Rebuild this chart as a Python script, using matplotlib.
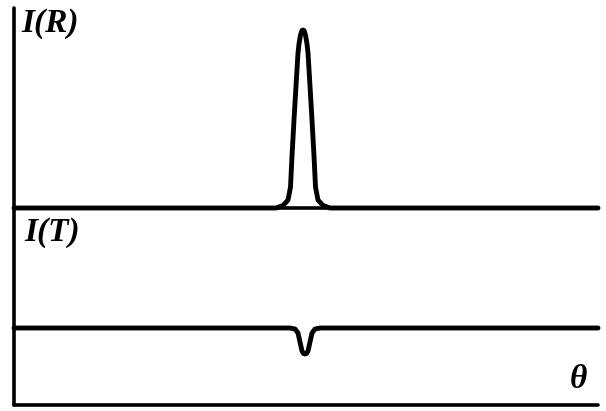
import matplotlib

matplotlib.use("Agg")
import matplotlib.pyplot as plt

# angle axis runs 0..584 (arbitrary units), intensities in arbitrary units
THETA_MAX = 584

# reflected intensity I(R): flat baseline with one narrow peak
theta_R = [0, 262, 269, 274, 276.5, 278, 280, 282, 284, 285, 286.5, 288, 289,
           290, 291.5, 293, 294, 296, 298, 300, 301.5, 304, 309, 316, 584]
I_R = [0, 0, 2.5, 8, 21, 52, 88, 122, 155, 164, 173, 177.5, 178,
       177.5, 173, 164, 155, 122, 88, 52, 21, 8, 2.5, 0, 0]

# transmitted intensity I(T): flat baseline with a small dip
theta_T = [0, 276, 281, 284, 286, 288, 289.5, 291, 292.5, 294, 296, 298, 301, 306, 584]
I_T = [0, 0, -1, -5, -14, -23, -25.5, -26, -25.5, -23, -14, -5, -1, 0, 0]

LW = 3.5
label_font = dict(family="Liberation Serif", style="italic", weight="bold", fontsize=24)

fig = plt.figure(figsize=(6.06, 4.11), dpi=100)
W, H = 606.0, 411.0
left, right = 14, 598

# top panel: I(R)
ax_r = fig.add_axes([left / W, (H - 208) / H, (right - left) / W, 200 / H])
ax_r.plot(theta_R, I_R, color="black", lw=LW, clip_on=False, solid_capstyle="round")
ax_r.set_xlim(0, THETA_MAX)
ax_r.set_ylim(0, 200)
ax_r.text(0.012, 1.0, "I(R)", transform=ax_r.transAxes, ha="left", va="top", **label_font)

# bottom panel: I(T)
ax_t = fig.add_axes([left / W, (H - 405) / H, (right - left) / W, 197 / H])
ax_t.plot(theta_T, I_T, color="black", lw=LW, clip_on=False, solid_capstyle="round")
ax_t.set_xlim(0, THETA_MAX)
ax_t.set_ylim(-77, 120)
ax_t.text(0.017, 0.955, "I(T)", transform=ax_t.transAxes, ha="left", va="top", **label_font)
ax_t.text(0.981, 0.05, "θ", transform=ax_t.transAxes, ha="right", va="bottom", **label_font)

for ax in (ax_r, ax_t):
    ax.set_xticks([])
    ax.set_yticks([])
    ax.patch.set_visible(False)
    for side in ("top", "right"):
        ax.spines[side].set_visible(False)
    for side in ("left", "bottom"):
        ax.spines[side].set_linewidth(2.6)
        ax.spines[side].set_capstyle("round")

fig.savefig("out.png", dpi=100, facecolor="white")
